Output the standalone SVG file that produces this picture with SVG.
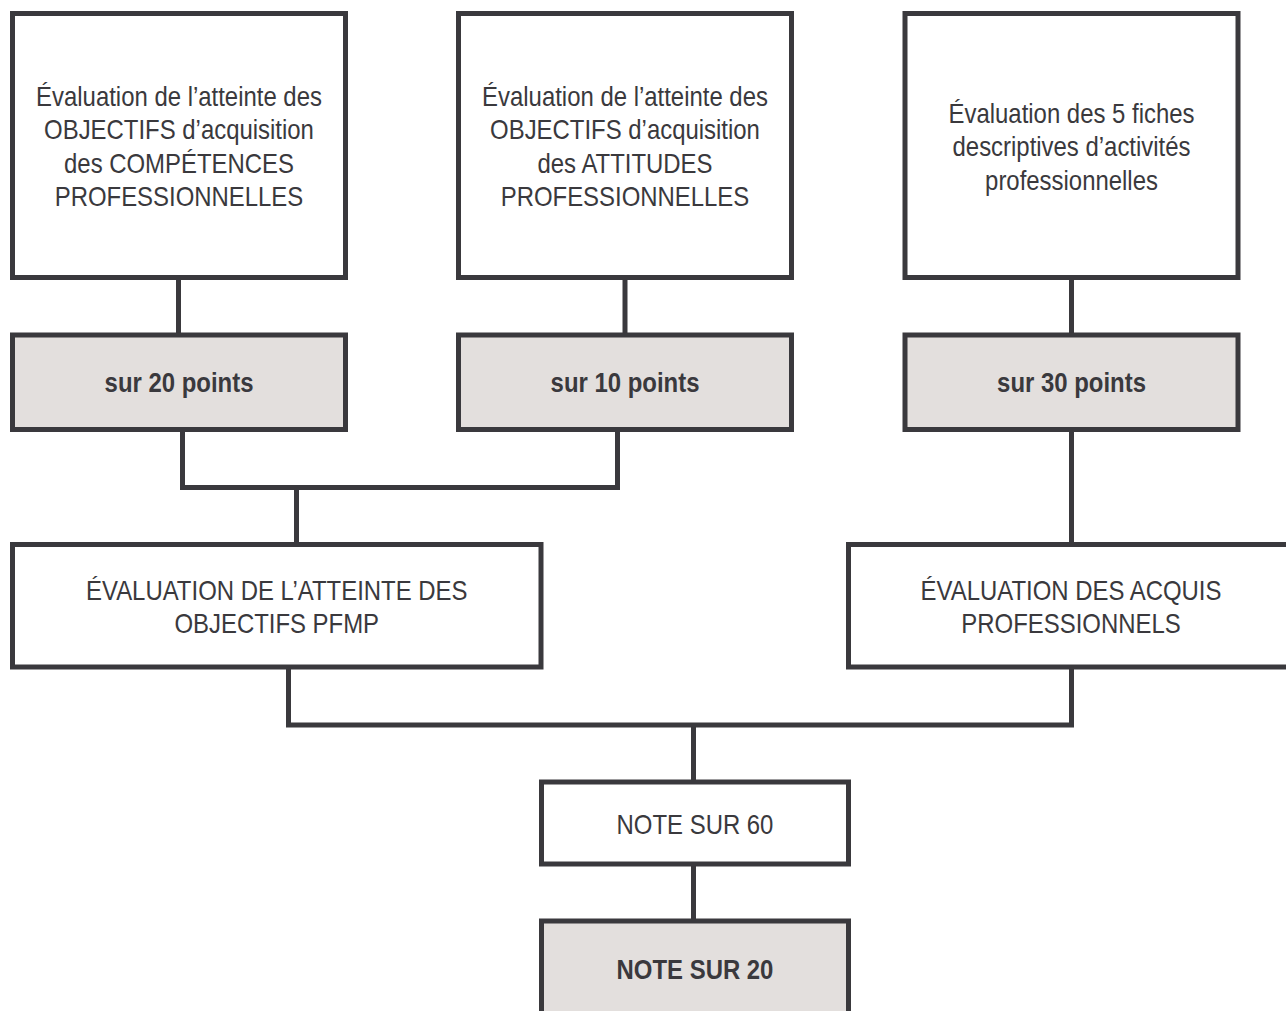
<svg xmlns="http://www.w3.org/2000/svg" width="1286" height="1011" viewBox="0 0 1286 1011">
<style>
.box{fill:#ffffff;stroke:#3a393d;stroke-width:5}
.gray{fill:#e3dfdd;stroke:#3a393d;stroke-width:5}
.t{font-family:"Liberation Sans",Arial,Helvetica,sans-serif;font-size:27.5px;fill:#3a393d;text-anchor:middle}
.b{font-weight:bold}
.c{fill:none;stroke:#3a393d;stroke-width:5;stroke-linejoin:miter;stroke-linecap:butt}
</style>
<rect x="0" y="0" width="1286" height="1011" fill="#ffffff"/>
<g id="connectors">
<path class="c" d="M178.5 277.5V335"/>
<path class="c" d="M625 277.5V335"/>
<path class="c" d="M1071.5 277.5V335"/>
<path class="c" d="M182.5 429.5V487.5H617.5V429.5"/>
<path class="c" d="M296.5 487.5V544.5"/>
<path class="c" d="M1071.5 429.5V544.5"/>
<path class="c" d="M288.5 667V725H1071.5V667"/>
<path class="c" d="M693.5 725V782"/>
<path class="c" d="M693.5 864V921"/>
</g>
<g id="node-competences">
<rect class="box" x="12.5" y="13.5" width="333" height="264"/>
<g transform="translate(179,0) scale(0.87,1)">
<text class="t" x="0" y="106">Évaluation de l’atteinte des</text>
<text class="t" x="0" y="139.5">OBJECTIFS d’acquisition</text>
<text class="t" x="0" y="173">des COMPÉTENCES</text>
<text class="t" x="0" y="206.5">PROFESSIONNELLES</text>
</g>
</g>
<g id="node-attitudes">
<rect class="box" x="458.5" y="13.5" width="333" height="264"/>
<g transform="translate(625,0) scale(0.87,1)">
<text class="t" x="0" y="106">Évaluation de l’atteinte des</text>
<text class="t" x="0" y="139.5">OBJECTIFS d’acquisition</text>
<text class="t" x="0" y="173">des ATTITUDES</text>
<text class="t" x="0" y="206.5">PROFESSIONNELLES</text>
</g>
</g>
<g id="node-fiches">
<rect class="box" x="905" y="13.5" width="333" height="264"/>
<g transform="translate(1071.5,0) scale(0.87,1)">
<text class="t" x="0" y="123">Évaluation des 5 fiches</text>
<text class="t" x="0" y="156.5">descriptives d’activités</text>
<text class="t" x="0" y="190">professionnelles</text>
</g>
</g>
<g id="node-sur20">
<rect class="gray" x="12.5" y="335" width="333" height="94.5"/>
<g transform="translate(179,0) scale(0.87,1)">
<text class="t b" x="0" y="392.5">sur 20 points</text>
</g>
</g>
<g id="node-sur10">
<rect class="gray" x="458.5" y="335" width="333" height="94.5"/>
<g transform="translate(625,0) scale(0.87,1)">
<text class="t b" x="0" y="392.5">sur 10 points</text>
</g>
</g>
<g id="node-sur30">
<rect class="gray" x="905" y="335" width="333" height="94.5"/>
<g transform="translate(1071.5,0) scale(0.87,1)">
<text class="t b" x="0" y="392.5">sur 30 points</text>
</g>
</g>
<g id="node-pfmp">
<rect class="box" x="12.5" y="544.5" width="528.5" height="122.5"/>
<g transform="translate(276.75,0) scale(0.87,1)">
<text class="t" x="0" y="600">ÉVALUATION DE L’ATTEINTE DES</text>
<text class="t" x="0" y="633.5">OBJECTIFS PFMP</text>
</g>
</g>
<g id="node-acquis">
<rect class="box" x="848.5" y="544.5" width="445" height="122.5"/>
<g transform="translate(1071,0) scale(0.87,1)">
<text class="t" x="0" y="600">ÉVALUATION DES ACQUIS</text>
<text class="t" x="0" y="633.5">PROFESSIONNELS</text>
</g>
</g>
<g id="node-note60">
<rect class="box" x="541.5" y="782" width="307" height="82"/>
<g transform="translate(695,0) scale(0.87,1)">
<text class="t" x="0" y="834">NOTE SUR 60</text>
</g>
</g>
<g id="node-note20">
<rect class="gray" x="541.5" y="921" width="307" height="96"/>
<g transform="translate(695,0) scale(0.87,1)">
<text class="t b" x="0" y="979">NOTE SUR 20</text>
</g>
</g>
</svg>
